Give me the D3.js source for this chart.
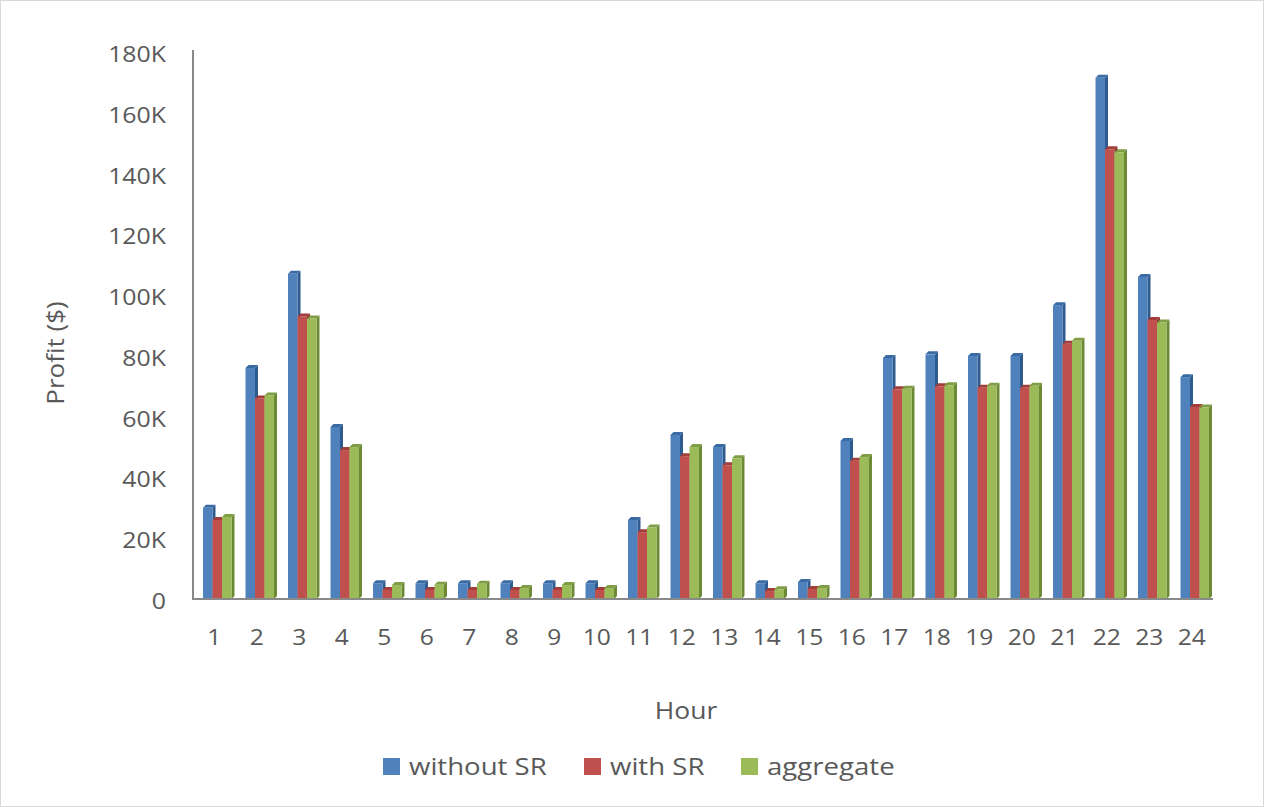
<!DOCTYPE html>
<html><head><meta charset="utf-8">
<script src="https://cdn.jsdelivr.net/npm/d3@7"></script>
<style>body{margin:0;background:#fff}svg{display:block}text{font-family:"Open Sans","Liberation Sans",sans-serif;fill:#595959}</style>
</head><body><svg id="c" width="1264" height="807"></svg>
<script>
const hours = ["1","2","3","4","5","6","7","8","9","10","11","12","13","14","15","16","17","18","19","20","21","22","23","24"];
const seriesNames = ["without SR","with SR","aggregate"];
const withoutSR = [30,76,107,56.6,5.2,5.2,5.2,5.2,5.2,5.2,26,54,50,5.2,5.6,52,79.3,80.5,80,80,96.7,171.5,106,73];
const withSR    = [26,66,93,49,3,3,3,3,3,3,22,47,44,2.6,3.3,45.5,69,70,69.5,69.5,84,148,91.8,63.2];
const aggregate = [27,67,92.3,50,4.6,4.7,5,3.6,4.6,3.6,23.5,50,46.3,3.2,3.6,46.7,69.2,70.3,70.2,70.2,85,147,91,63];
const yTicks = [0,20,40,60,80,100,120,140,160,180];

const colors = ["#4f81bd","#c0504d","#9bbb59"];
const sideColors = ["#2f5b8f","#8c2f2c","#6c8a35"];
const topColors = ["#3a6aa3","#a33d3a","#7f9d44"];
const series = [withoutSR, withSR, aggregate];

const svg = d3.select("#c");
svg.append("rect").attr("x",0.5).attr("y",0.5).attr("width",1263).attr("height",806).attr("fill","#fff").attr("stroke","#d9d9d9");

const L=193, R=1213, T=52, B=599;
const y = d3.scaleLinear().domain([0,180]).range([B,T]);
const x0 = d3.scaleBand().domain(hours).range([L,R]).paddingInner(0.33).paddingOuter(0.165);
const x1 = d3.scaleBand().domain(seriesNames).range([0,x0.bandwidth()]);
const dep = 3, shift = 3;

function txt(g, x, yy, str, size, anchor, sx, rot){
  return g.append("text")
    .attr("transform",`translate(${x},${yy})${rot?` rotate(${rot})`:""} scale(${sx},1)`)
    .attr("text-anchor",anchor).attr("font-size",size).text(str);
}

// y tick labels
const gy = svg.append("g");
yTicks.forEach(d=>txt(gy,166,y(d)+10,d===0?"0":d+"K",22,"end",1.13));
// x tick labels
const gx = svg.append("g");
hours.forEach(d=>txt(gx,x0(d)+x0.bandwidth()/2,645,d,22,"middle",1.12));

// bars
const g = svg.append("g");
hours.forEach((h,i)=>{
  series.forEach((s,k)=>{
    const v = s[i];
    const bx = x0(h)+x1(seriesNames[k])+shift, bw = x1.bandwidth(), by = y(v), bb = y(0);
    g.append("path").attr("d",`M${bx+bw},${by} L${bx+bw+dep},${by-dep} L${bx+bw+dep},${bb-dep} L${bx+bw},${bb} Z`).attr("fill",sideColors[k]);
    g.append("path").attr("d",`M${bx},${by} L${bx+dep},${by-dep} L${bx+bw+dep},${by-dep} L${bx+bw},${by} Z`).attr("fill",topColors[k]);
    g.append("rect").attr("x",bx).attr("y",by).attr("width",bw).attr("height",bb-by).attr("fill",colors[k]);
  });
});

// axes
svg.append("line").attr("x1",L).attr("x2",L).attr("y1",50).attr("y2",B+1).attr("stroke","#898989").attr("stroke-width",2);
svg.append("line").attr("x1",L).attr("x2",R).attr("y1",B).attr("y2",B).attr("stroke","#898989").attr("stroke-width",2);

// axis titles
txt(svg,64,353,"Profit ($)",23,"middle",1.13,-90);
txt(svg,686,719,"Hour",23,"middle",1.15);

// legend
const legX = [383, 584, 741];
const lg = svg.append("g");
seriesNames.forEach((n,k)=>{
  lg.append("rect").attr("x",legX[k]).attr("y",758).attr("width",17).attr("height",17).attr("fill",colors[k]);
  txt(lg,legX[k]+26,775,n,23,"start",1.2);
});
</script></body></html>
